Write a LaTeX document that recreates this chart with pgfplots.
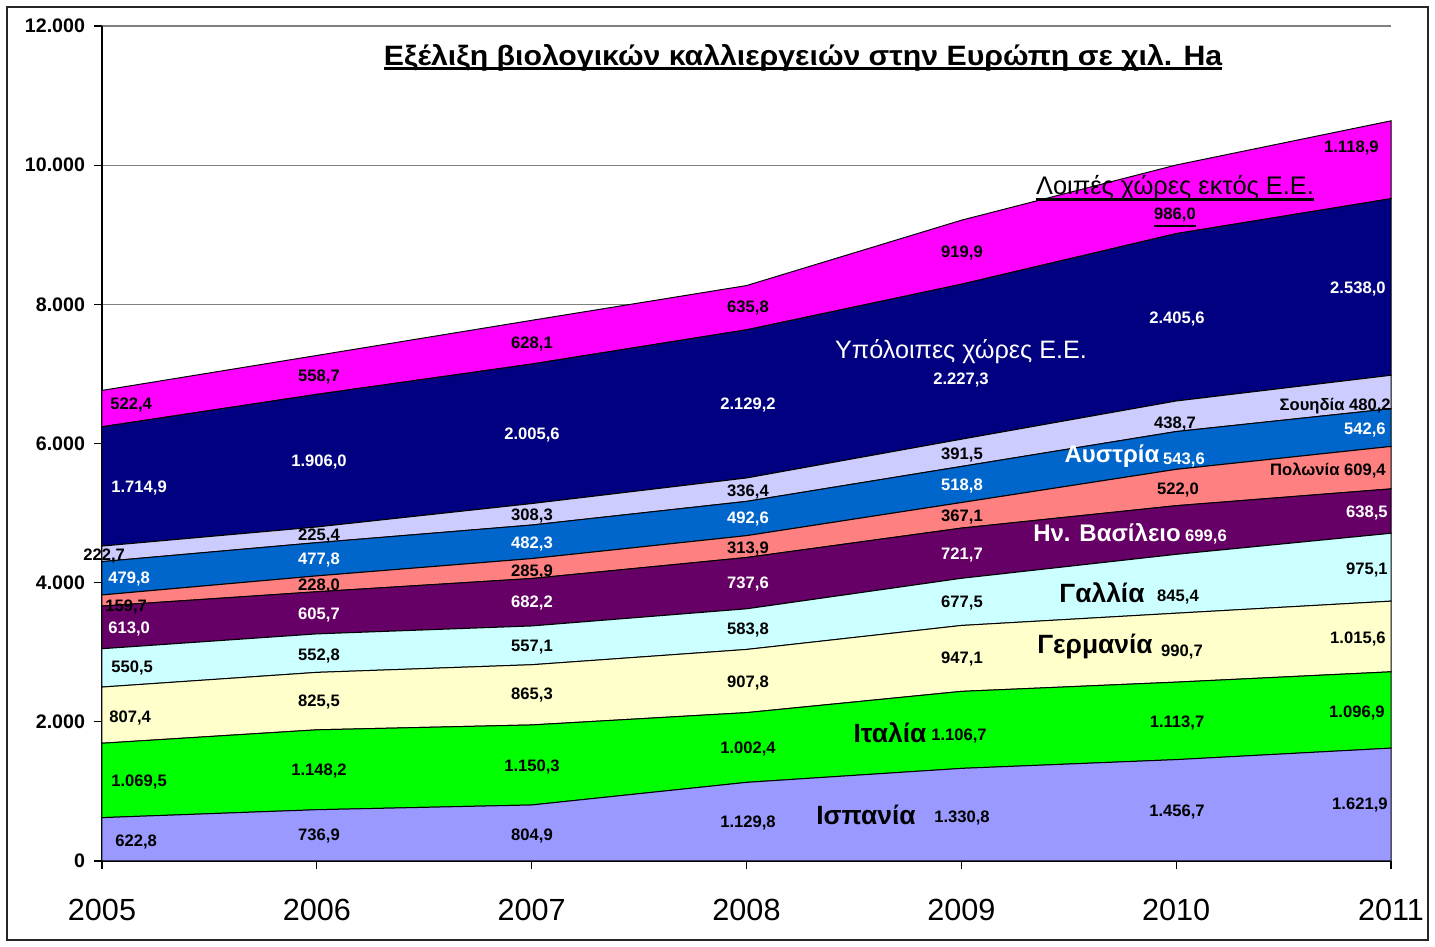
\documentclass[border=0pt]{standalone}
\usepackage{fontspec}
\setmainfont{Liberation Sans}
\usepackage{pgfplots}
\pgfplotsset{compat=1.18}

\definecolor{cES}{HTML}{9999FF}
\definecolor{cIT}{HTML}{00FF00}
\definecolor{cDE}{HTML}{FFFFCC}
\definecolor{cFR}{HTML}{CCFFFF}
\definecolor{cUK}{HTML}{660066}
\definecolor{cPL}{HTML}{FF8080}
\definecolor{cAT}{HTML}{0066CC}
\definecolor{cSE}{HTML}{CCCCFF}
\definecolor{cEU}{HTML}{000080}
\definecolor{cNE}{HTML}{FF00FF}

\newcommand{\fs}[1]{\fontsize{#1}{#1}\selectfont}
\newcommand{\myul}[3]{\setbox0\hbox{#3}\rlap{\box0}\setbox0\hbox{#3}\rule[-#2]{\wd0}{#1}}
\newcommand{\lbl}[4]{\node[#3] at ({(#1-102)*0.5pt},{(861-#2)*0.5pt}) {#4};}
\tikzset{
  dl/.style={font=\bfseries\fs{8.3}, inner sep=0pt, text=black, yshift=-0.8pt},
  wl/.style={font=\bfseries\fs{8.3}, inner sep=0pt, text=white, yshift=-0.8pt},
  nm/.style={font=\bfseries\fs{13.2}, inner sep=0pt, text=black},
  wn/.style={font=\bfseries\fs{12}, inner sep=0pt, text=white},
}

\begin{document}
\begin{tikzpicture}
\path[use as bounding box] (-51pt,-43pt) rectangle (666.5pt,430.5pt);
\draw[line width=1pt, black!85] (-47.5pt,-39.5pt) rectangle (663pt,427pt);
\begin{axis}[
  at={(0,0)}, anchor=south west,
  scale only axis, width=644.5pt, height=417.5pt,
  xmin=2005, xmax=2011, ymin=0, ymax=12000,
  stack plots=y,
  axis x line*=bottom, axis y line*=left,
  axis line style={-, black, line width=0.6pt},
  xtick={2005,2006,2007,2008,2009,2010,2011},
  xticklabels={2005,2006,2007,2008,2009,2010,2011},
  ytick={0,2000,4000,6000,8000,10000,12000},
  scaled y ticks=false,
  tick align=outside,
  major tick length=4pt,
  tick style={black, line width=0.6pt},
  ymajorgrids,
  grid style={gray, line width=0.6pt},
  yticklabel style={font=\bfseries\fs{9.8}, /pgf/number format/1000 sep={.}, /pgf/number format/assume math mode=true, xshift=-1pt},
  xticklabel style={font=\fs{15.3}, yshift=-11.5pt},
  every axis plot/.append style={draw=black, line width=0.5pt},
  clip=false,
]
\addplot[fill=cES] coordinates {(2005,622.8) (2006,736.9) (2007,804.9) (2008,1129.8) (2009,1330.8) (2010,1456.7) (2011,1621.9)} \closedcycle;
\addplot[fill=cIT] coordinates {(2005,1069.5) (2006,1148.2) (2007,1150.3) (2008,1002.4) (2009,1106.7) (2010,1113.7) (2011,1096.9)} \closedcycle;
\addplot[fill=cDE] coordinates {(2005,807.4) (2006,825.5) (2007,865.3) (2008,907.8) (2009,947.1) (2010,990.7) (2011,1015.6)} \closedcycle;
\addplot[fill=cFR] coordinates {(2005,550.5) (2006,552.8) (2007,557.1) (2008,583.8) (2009,677.5) (2010,845.4) (2011,975.1)} \closedcycle;
\addplot[fill=cUK] coordinates {(2005,613.0) (2006,605.7) (2007,682.2) (2008,737.6) (2009,721.7) (2010,699.6) (2011,638.5)} \closedcycle;
\addplot[fill=cPL] coordinates {(2005,159.7) (2006,228.0) (2007,285.9) (2008,313.9) (2009,367.1) (2010,522.0) (2011,609.4)} \closedcycle;
\addplot[fill=cAT] coordinates {(2005,479.8) (2006,477.8) (2007,482.3) (2008,492.6) (2009,518.8) (2010,543.6) (2011,542.6)} \closedcycle;
\addplot[fill=cSE] coordinates {(2005,222.7) (2006,225.4) (2007,308.3) (2008,336.4) (2009,391.5) (2010,438.7) (2011,480.2)} \closedcycle;
\addplot[fill=cEU] coordinates {(2005,1714.9) (2006,1906.0) (2007,2005.6) (2008,2129.2) (2009,2227.3) (2010,2405.6) (2011,2538.0)} \closedcycle;
\addplot[fill=cNE] coordinates {(2005,522.4) (2006,558.7) (2007,628.1) (2008,635.8) (2009,919.9) (2010,986.0) (2011,1118.9)} \closedcycle;
\end{axis}

% title
\lbl{803}{58}{font=\bfseries\fs{14}, inner sep=0pt, text=black}{\scalebox{1.08}[1]{\myul{1.4pt}{2pt}{Εξέλιξη βιολογικών καλλιεργειών στην Ευρώπη σε χιλ. Ha}}}

% 2005
\lbl{110}{403}{dl, anchor=west}{522,4}
\lbl{111}{486}{wl, anchor=west}{1.714,9}
\lbl{83}{554}{dl, anchor=west}{222,7}
\lbl{108}{577}{wl, anchor=west}{479,8}
\lbl{105}{605}{dl, anchor=west}{159,7}
\lbl{108}{627}{wl, anchor=west}{613,0}
\lbl{111}{666}{dl, anchor=west}{550,5}
\lbl{109}{716}{dl, anchor=west}{807,4}
\lbl{111}{780}{dl, anchor=west}{1.069,5}
\lbl{115}{840}{dl, anchor=west}{622,8}
% 2006
\lbl{319}{375}{dl}{558,7}
\lbl{319}{460}{wl}{1.906,0}
\lbl{319}{534}{dl}{225,4}
\lbl{319}{558}{wl}{477,8}
\lbl{319}{584}{dl}{228,0}
\lbl{319}{613}{wl}{605,7}
\lbl{319}{654}{dl}{552,8}
\lbl{319}{700}{dl}{825,5}
\lbl{319}{769}{dl}{1.148,2}
\lbl{319}{834}{dl}{736,9}
% 2007
\lbl{532}{342}{dl}{628,1}
\lbl{532}{433}{wl}{2.005,6}
\lbl{532}{514}{dl}{308,3}
\lbl{532}{542}{wl}{482,3}
\lbl{532}{570}{dl}{285,9}
\lbl{532}{601}{wl}{682,2}
\lbl{532}{645}{dl}{557,1}
\lbl{532}{693}{dl}{865,3}
\lbl{532}{765}{dl}{1.150,3}
\lbl{532}{834}{dl}{804,9}
% 2008
\lbl{748}{306}{dl}{635,8}
\lbl{748}{403}{wl}{2.129,2}
\lbl{748}{490}{dl}{336,4}
\lbl{748}{517}{wl}{492,6}
\lbl{748}{547}{dl}{313,9}
\lbl{748}{582}{wl}{737,6}
\lbl{748}{628}{dl}{583,8}
\lbl{748}{681}{dl}{907,8}
\lbl{748}{747}{dl}{1.002,4}
\lbl{748}{821}{dl}{1.129,8}
% 2009
\lbl{962}{251}{dl}{919,9}
\lbl{961}{352}{font=\fs{12.6}, inner sep=0pt, text=white}{Υπόλοιπες χώρες Ε.Ε.}
\lbl{961}{378}{wl}{2.227,3}
\lbl{962}{453}{dl}{391,5}
\lbl{962}{484}{wl}{518,8}
\lbl{962}{515}{dl}{367,1}
\lbl{962}{553}{wl}{721,7}
\lbl{962}{601}{dl}{677,5}
\lbl{962}{657}{dl}{947,1}
\lbl{890}{733}{nm}{Ιταλία}
\lbl{959}{734}{dl}{1.106,7}
\lbl{866}{815}{nm}{Ισπανία}
\lbl{962}{816}{dl}{1.330,8}
% 2010
\lbl{1175}{188}{font=\fs{12.7}, inner sep=0pt, text=black}{\myul{1.5pt}{3pt}{Λοιπές χώρες εκτός Ε.Ε.}}
\lbl{1175}{216}{dl}{\myul{1.4pt}{4pt}{986,0}}
\lbl{1177}{317}{wl}{2.405,6}
\lbl{1175}{422}{dl}{438,7}
\lbl{1112}{456}{wn}{Αυστρία}
\lbl{1184}{458}{wl}{543,6}
\lbl{1178}{488}{dl}{522,0}
\lbl{1107}{533}{wn}{Ην. Βασίλειο}
\lbl{1206}{535}{wl}{699,6}
\lbl{1102}{593}{nm}{Γαλλία}
\lbl{1178}{595}{dl}{845,4}
\lbl{1095}{647}{nm}{Γερμανία}
\lbl{1182}{650}{dl}{990,7}
\lbl{1177}{721}{dl}{1.113,7}
\lbl{1177}{810}{dl}{1.456,7}
% 2011
\lbl{1379}{146}{dl, anchor=east}{1.118,9}
\lbl{1386}{287}{wl, anchor=east}{2.538,0}
\lbl{1391}{405}{dl, anchor=east}{Σουηδία 480,2}
\lbl{1386}{428}{wl, anchor=east}{542,6}
\lbl{1386}{469}{dl, anchor=east}{Πολωνία 609,4}
\lbl{1388}{511}{wl, anchor=east}{638,5}
\lbl{1388}{568}{dl, anchor=east}{975,1}
\lbl{1386}{637}{dl, anchor=east}{1.015,6}
\lbl{1385}{711}{dl, anchor=east}{1.096,9}
\lbl{1388}{803}{dl, anchor=east}{1.621,9}
\end{tikzpicture}
\end{document}
